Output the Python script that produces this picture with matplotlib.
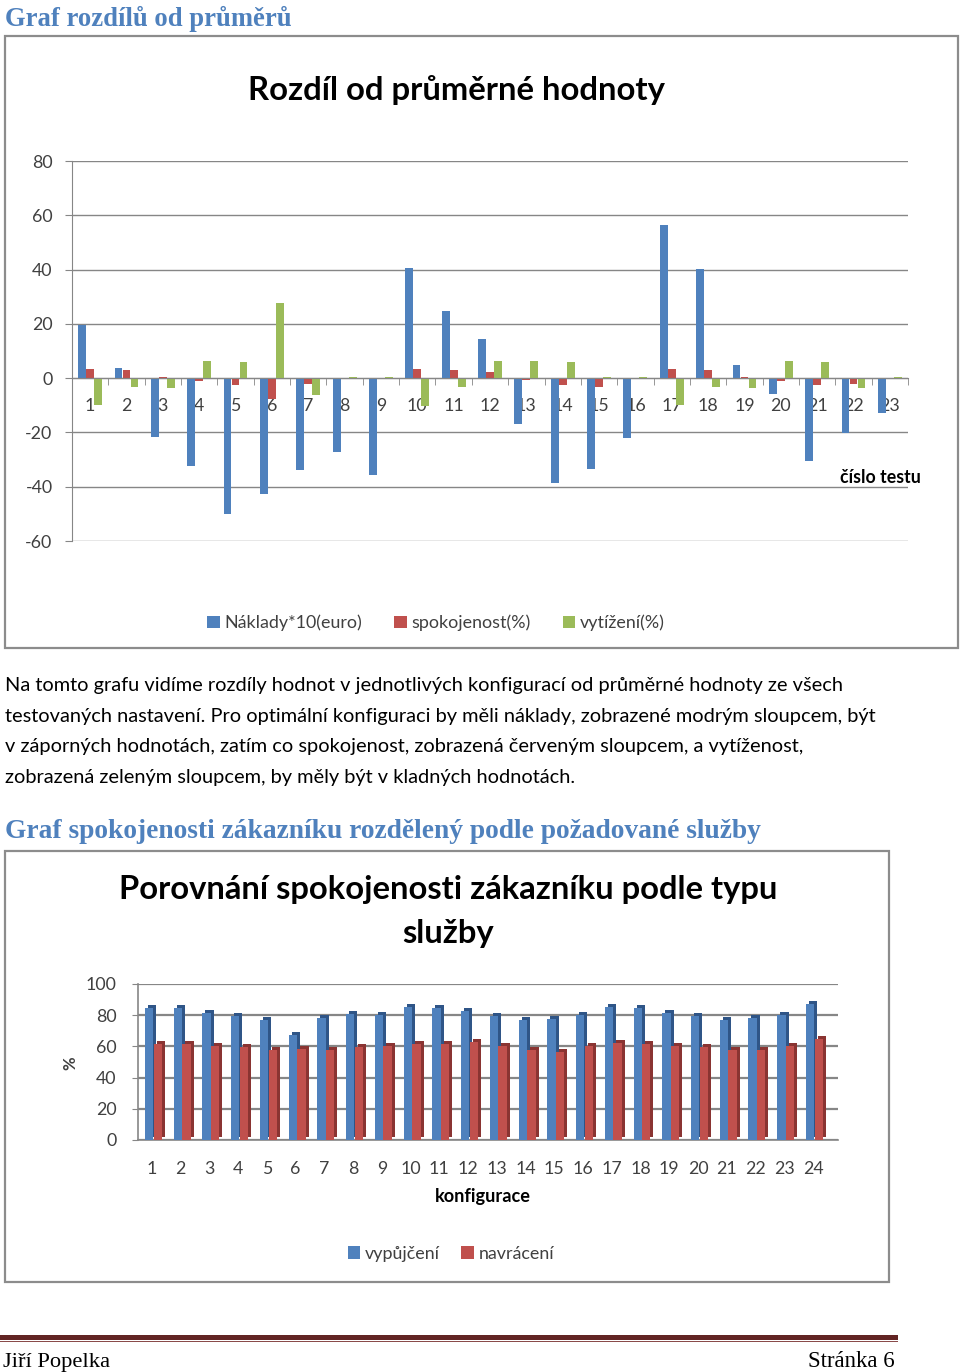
import matplotlib
matplotlib.use('Agg')
import matplotlib.pyplot as plt
import matplotlib.transforms as mtransforms
from matplotlib.patches import Rectangle
import numpy as np

W, H = 960, 1372

# ---------------- data: chart 1 ----------------
tests = [str(i) for i in range(1, 24)]
naklady = [19.4, 3.6, -21.6, -32.5, -50.0, -42.8, -33.7, -27.2, -35.6, 40.7, 24.9, 14.4,
           -17.0, -38.6, -33.5, -22.2, 56.4, 40.1, 4.7, -5.8, -30.7, -20.1, -12.7]
spokojenost = [3.3, 3.0, 0.5, -0.9, -2.7, -7.8, -2.2, 0.2, 0.2, 3.3, 3.0, 2.1,
               -0.7, -2.7, -3.1, 0.2, 3.3, 3.0, 0.5, -0.9, -2.7, -2.2, 0.2]
vytizeni = [-9.9, -3.1, -3.5, 6.4, 6.0, 27.8, -6.2, 0.4, 0.4, -10.1, -3.1, 6.4,
            6.4, 6.0, 0.4, 0.4, -9.9, -3.1, -3.5, 6.4, 6.0, -3.5, 0.4]
series1_names = ['Náklady*10(euro)', 'spokojenost(%)', 'vytížení(%)']
y1_ticks = [-60, -40, -20, 0, 20, 40, 60, 80]

# ---------------- data: chart 2 ----------------
configs = [str(i) for i in range(1, 25)]
vypujceni = [84.3, 84.3, 81.3, 79.6, 77.0, 67.0, 78.3, 81.0, 80.0, 85.0, 84.6, 82.6,
             79.6, 77.0, 77.5, 80.0, 85.0, 84.6, 81.3, 79.6, 77.0, 78.3, 80.0, 87.2]
navraceni = [61.7, 61.7, 60.0, 59.6, 57.8, 58.3, 57.4, 59.6, 60.0, 61.7, 61.7, 62.6,
             60.0, 58.0, 56.6, 60.0, 62.0, 61.8, 60.0, 59.6, 58.0, 58.0, 60.0, 65.0]
series2_names = ['vypůjčení', 'navrácení']
y2_ticks = [0, 20, 40, 60, 80, 100]

BLUE, RED, GREEN = '#4F81BD', '#C0504D', '#9BBB59'
BLUE_D, RED_D = '#2F5587', '#8A3432'
GRID = '#868686'
TXT = '#404040'
HEAD = '#4F81BD'
SANS = 'Lato'
SERIF = 'Liberation Serif'

fig = plt.figure(figsize=(W / 100, H / 100), dpi=100)
renderer = fig.canvas.get_renderer()


def fx(x):
    return x / W


def fy(y):
    return 1 - y / H


def put(x, y, s, width=None, size=12, ha='left', va='baseline', **kw):
    t = fig.text(fx(x), fy(y), s, fontsize=size, ha=ha, va=va, **kw)
    if width:
        w = t.get_window_extent(renderer).width
        t.set_fontsize(size * width / w)
    return t


def box(x0, y0, x1, y1):
    fig.patches.append(Rectangle((fx(x0), fy(y1)), fx(x1) - fx(x0), fy(y0) - fy(y1),
                                 transform=fig.transFigure, fill=False,
                                 edgecolor='#8c8c8c', linewidth=1.6))


def axes_px(x0, y0, x1, y1):
    return fig.add_axes([fx(x0), fy(y1), fx(x1) - fx(x0), fy(y0) - fy(y1)])


# ---------------- heading 1 ----------------
put(5, 26, 'Graf rozdílů od průměrů', width=286, size=16, family=SERIF,
    weight='bold', color=HEAD)

# ---------------- chart 1 ----------------
box(5, 36, 958, 648)
put(457, 100, 'Rozdíl od průměrné hodnoty', width=418, size=20, ha='center',
    family=SANS, weight='bold', color='black')

ax1 = axes_px(72, 161, 908, 541)
x = np.arange(1, len(tests) + 1)
bw = 0.215
b1 = ax1.bar(x - 0.22, naklady, bw, color=BLUE, zorder=3)
b2 = ax1.bar(x, spokojenost, bw, color=RED, zorder=3)
b3 = ax1.bar(x + 0.22, vytizeni, bw, color=GREEN, zorder=3)
ax1.set_xlim(0.5, len(tests) + 0.5)
ax1.set_ylim(-60, 80)
ax1.set_yticks(y1_ticks)
ax1.set_yticklabels([str(v) for v in y1_ticks])
ax1.yaxis.grid(True, color=GRID, linewidth=1.0)
ax1.set_axisbelow(True)
for s in ['top', 'right']:
    ax1.spines[s].set_visible(False)
ax1.spines['left'].set_color(GRID)
ax1.spines['bottom'].set_color(GRID)
ax1.spines['bottom'].set_position(('data', 0))
ax1.spines['bottom'].set_zorder(4)
ax1.set_xticks(x)
ax1.set_xticklabels(tests)
ax1.set_xticks(np.arange(0.5, len(tests) + 1, 1.0), minor=True)
ax1.tick_params(axis='x', which='major', length=0, pad=14, labelsize=12.8,
                labelcolor=TXT, labelfontfamily=SANS)
ax1.tick_params(axis='x', which='minor', length=5, direction='out', color=GRID)
ax1.tick_params(axis='y', length=5, color=GRID, pad=9, labelsize=12.8,
                labelcolor=TXT, labelfontfamily=SANS)
ax1.set_facecolor('none')

put(880, 483, 'číslo testu', width=80, size=12, ha='center', family=SANS,
    weight='bold', color='black')

fig.legend([b1, b2, b3], series1_names, loc='center',
           bbox_to_anchor=(fx(436), fy(623)), ncol=3, frameon=False,
           handlelength=0.7, handleheight=0.7, handletextpad=0.25,
           columnspacing=1.8, prop={'family': SANS, 'size': 12.9},
           labelcolor=TXT)

# ---------------- paragraph ----------------
para = [
    'Na tomto grafu vidíme rozdíly hodnot v jednotlivých konfigurací od průměrné hodnoty ze všech',
    'testovaných nastavení. Pro optimální konfiguraci by měli náklady, zobrazené modrým sloupcem, být',
    'v záporných hodnotách, zatím co spokojenost, zobrazená červeným sloupcem, a vytíženost,',
    'zobrazená zeleným sloupcem, by měly být v kladných hodnotách.',
]
t0 = put(5, 691, para[0], width=837, size=13, family=SANS, color='black')
psize = t0.get_fontsize()
for i, line in enumerate(para[1:], start=1):
    put(5, 691 + 30.6 * i, line, size=psize, family=SANS, color='black')

# ---------------- heading 2 ----------------
put(5, 838, 'Graf spokojenosti zákazníku rozdělený podle požadované služby',
    width=758, size=16, family=SERIF, weight='bold', color=HEAD)

# ---------------- chart 2 ----------------
box(5, 851, 889, 1282)
tt = put(448, 899, 'Porovnání spokojenosti zákazníku podle typu', width=658,
         size=20, ha='center', family=SANS, weight='bold', color='black')
put(448, 943, 'služby', size=tt.get_fontsize(), ha='center', family=SANS,
    weight='bold', color='black')

ax2 = axes_px(137.6, 984, 838, 1140)
x2 = np.arange(1, len(configs) + 1)
bw2 = 0.29
shift = mtransforms.offset_copy(ax2.transData, fig=fig, x=3, y=3, units='dots')
for xs, vals, c, cd in [(x2 - 0.1, vypujceni, BLUE, BLUE_D),
                        (x2 + 0.2, navraceni, RED, RED_D)]:
    ax2.bar(xs, vals, bw2, color=cd, zorder=2, transform=shift)
ax2.bar(x2 - 0.1, vypujceni, bw2, color=BLUE, zorder=3, label=series2_names[0])
ax2.bar(x2 + 0.2, navraceni, bw2, color=RED, zorder=3, label=series2_names[1])
ax2.set_xlim(0.5, len(configs) + 0.87)
ax2.set_ylim(0, 100)
ax2.set_yticks(y2_ticks)
ax2.set_yticklabels([str(v) for v in y2_ticks])
ax2.yaxis.grid(True, color=GRID, linewidth=1.6)
ax2.set_axisbelow(True)
for s in ['top', 'right']:
    ax2.spines[s].set_visible(False)
ax2.spines['left'].set_color(GRID)
ax2.spines['bottom'].set_color(GRID)
ax2.spines['left'].set_linewidth(1.2)
ax2.spines['bottom'].set_linewidth(1.2)
ax2.set_xticks(x2)
ax2.set_xticklabels(configs)
ax2.tick_params(axis='x', length=0, pad=15, labelsize=12.8, labelcolor=TXT,
                labelfontfamily=SANS)
ax2.tick_params(axis='y', length=4, color=GRID, pad=11, labelsize=12.8,
                labelcolor=TXT, labelfontfamily=SANS)
ax2.set_facecolor('none')

fig.text(fx(70), fy(1063), '%', rotation=90, ha='center', va='center',
         fontsize=12, family=SANS, weight='bold', color=TXT)
put(483, 1202, 'konfigurace', width=95, size=12, ha='center', family=SANS,
    weight='bold', color='black')
h2, l2 = ax2.get_legend_handles_labels()
fig.legend(h2, l2, loc='center', bbox_to_anchor=(fx(451), fy(1254)), ncol=2,
           frameon=False, handlelength=0.7, handleheight=0.7,
           handletextpad=0.25, columnspacing=1.2,
           prop={'family': SANS, 'size': 12.9}, labelcolor=TXT)

# ---------------- footer ----------------
fig.patches.append(Rectangle((0, fy(1340)), fx(898), fy(1334.5) - fy(1340),
                             transform=fig.transFigure, color='#622423', lw=0))
fig.patches.append(Rectangle((0, fy(1342)), fx(898), fy(1341) - fy(1342),
                             transform=fig.transFigure, color='#8a4b4a', lw=0))
put(3, 1367, 'Jiří Popelka', width=107, size=14, family=SERIF, color='black')
put(895, 1367, 'Stránka 6', width=87, size=14, ha='right', family=SERIF,
    color='black')

fig.savefig('out.png', dpi=100, facecolor='white')
